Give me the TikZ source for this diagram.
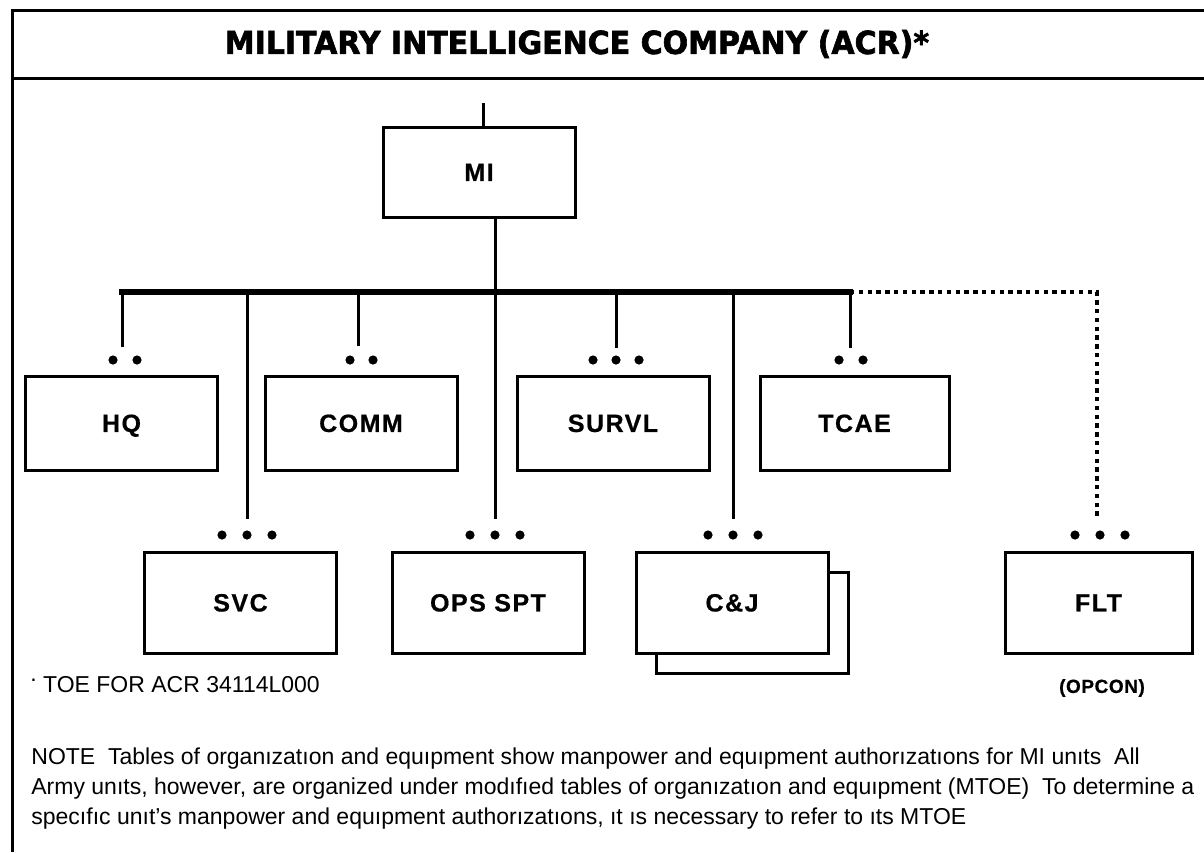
\documentclass[tikz,border=0pt]{standalone}
\usepackage{fontspec}
\setmainfont{Liberation Sans}
\newfontfamily\heavyfont[BoldFeatures={FakeBold=2}]{DejaVu Sans}
\newfontfamily\unitfont[LetterSpace=6,BoldFeatures={FakeBold=0.6}]{Liberation Sans}
\newfontfamily\opconfont[LetterSpace=3,BoldFeatures={FakeBold=0.6}]{Liberation Sans}
\begin{document}
\begin{tikzpicture}[x=0.5pt,y=-0.5pt,
  frameline/.style={line width=1.5pt},
  busline/.style={line width=3pt},
  dropline/.style={line width=1.5pt},
  opconline/.style={line width=1.6pt,dash pattern=on 2.2pt off 2.2pt},
  unitbox/.style={draw,line width=1.5pt,fill=white,inner sep=0pt,
    minimum width=96pt,minimum height=47pt,text height=8.95pt,text depth=0pt,
    font=\unitfont\bfseries\fontsize{12.5pt}{13pt}\selectfont},
  lowbox/.style={unitbox,minimum height=50.5pt},
  echelon/.style={circle,fill,inner sep=0pt,minimum size=4.6pt},
  plaintext/.style={inner sep=0pt,font=\fontsize{11.5pt}{15pt}\selectfont},
]
\useasboundingbox (0,0) rectangle (1204,852);

% outer frame and title band
\draw[frameline] (12,852) -- (12,10) -- (1204,10);
\draw[frameline] (12,78) -- (1204,78);
\node[inner sep=0pt,font=\heavyfont\bfseries\fontsize{15.8pt}{18pt}\selectfont]
  (title) at (577,44) {\scalebox{0.949}[1]{MILITARY INTELLIGENCE COMPANY (ACR)*}};

% company headquarters
\node[unitbox,minimum height=45pt] (mi) at (479,172) {MI};
\coordinate (miup) at (483,103);
\draw[dropline] (miup) -- (miup |- mi.north);
\coordinate (midown) at (495,292);
\draw[dropline] (midown |- mi.south) -- (midown);

% main bus
\coordinate (busL) at (122,292);
\coordinate (busR) at (850,292);
\draw[busline,line cap=rect] (busL) -- (busR);

% upper row of platoons
\node[unitbox] (hq)    at (121.5,423) {HQ};
\node[unitbox] (comm)  at (361,423)   {COMM};
\node[unitbox] (survl) at (613,423)   {SURVL};
\node[unitbox,minimum width=94.5pt] (tcae) at (854.5,423) {TCAE};

\coordinate (hqtop)    at (122,347);
\coordinate (commtop)  at (358,346);
\coordinate (survltop) at (616,348);
\coordinate (tcaetop)  at (850,348);
\coordinate (commbus)  at (358,292);
\coordinate (survlbus) at (616,292);
\draw[dropline] (busL) -- (hqtop);
\draw[dropline] (commbus) -- (commtop);
\draw[dropline] (survlbus) -- (survltop);
\draw[dropline] (busR) -- (tcaetop);

% echelon marks, upper row
\node[echelon] (hqd1) at (113,360) {};
\node[echelon] (hqd2) at (137,360) {};
\node[echelon] (commd1) at (350,360) {};
\node[echelon] (commd2) at (373,360) {};
\node[echelon] (survld1) at (593,360) {};
\node[echelon] (survld2) at (616,360) {};
\node[echelon] (survld3) at (639,360) {};
\node[echelon] (tcaed1) at (839,360) {};
\node[echelon] (tcaed2) at (863,360) {};

% lower row of sections
\node[lowbox] (svc) at (240.5,602.5) {SVC};
\node[lowbox] (ops) at (488,602.5) {OPS SPT};
\node[lowbox] (cjback) at (752,622.5) {};
\node[lowbox] (cj) at (732,602.5) {C\&J};
\node[lowbox,minimum width=93.5pt] (flt) at (1098.5,602.5) {FLT};

\coordinate (svcbus) at (247,292);
\coordinate (svctop) at (247,519);
\coordinate (opstop) at (495,519);
\coordinate (cjbus)  at (733,292);
\coordinate (cjtop)  at (733,519);
\draw[dropline] (svcbus) -- (svctop);
\draw[dropline] (midown) -- (opstop);
\draw[dropline] (cjbus) -- (cjtop);

% operational control link
\coordinate (fltcorner) at (1097,292);
\coordinate (flttop) at (1097,519);
\draw[opconline] (busR) -- (fltcorner) -- (flttop);

% echelon marks, lower row
\node[echelon] (svcd1) at (222,535) {};
\node[echelon] (svcd2) at (247,535) {};
\node[echelon] (svcd3) at (272,535) {};
\node[echelon] (opsd1) at (470,535) {};
\node[echelon] (opsd2) at (495,535) {};
\node[echelon] (opsd3) at (520,535) {};
\node[echelon] (cjd1) at (708,535) {};
\node[echelon] (cjd2) at (733,535) {};
\node[echelon] (cjd3) at (758,535) {};
\node[echelon] (fltd1) at (1075,535) {};
\node[echelon] (fltd2) at (1100,535) {};
\node[echelon] (fltd3) at (1125,535) {};

\node[inner sep=0pt,font=\opconfont\bfseries\fontsize{9.5pt}{10pt}\selectfont]
  (opcon) at (1102,688) {(OPCON)};

% footnotes
\node[plaintext,anchor=west] (toe) at (30,685)
  {\raisebox{0.9ex}{.}\ TOE FOR ACR 34114L000};
\node[plaintext,anchor=north west,align=left] (note) at (31,747)
  {NOTE\ \ Tables of organızatıon and equıpment show manpower and equıpment authorızatıons for MI unıts\ \ All\\
   Army unıts, however, are organized under modıfıed tables of organızatıon and equıpment (MTOE)\ \ To determine a\\
   specıfıc unıt's manpower and equıpment authorızatıons, ıt ıs necessary to refer to ıts MTOE};
\end{tikzpicture}
\end{document}
